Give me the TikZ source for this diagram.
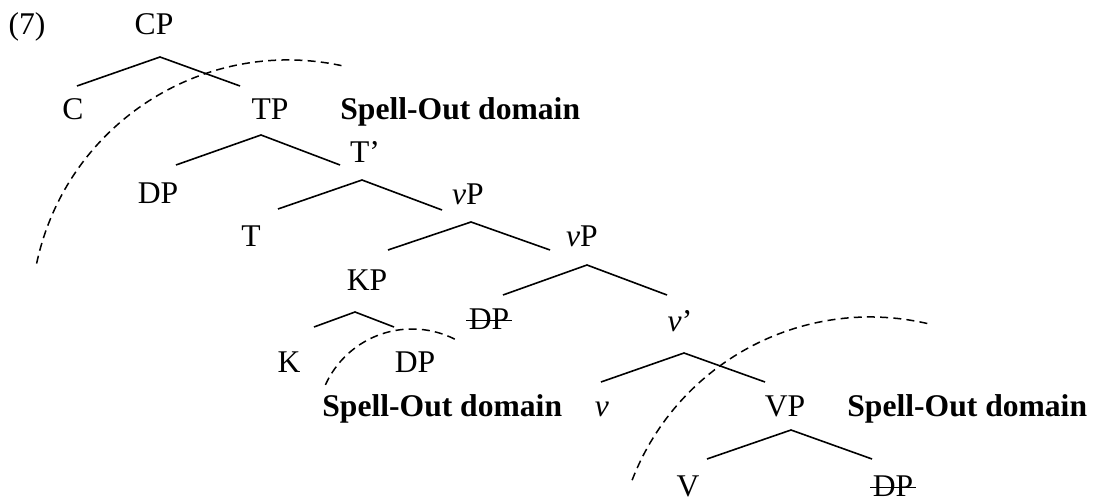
\documentclass[tikz,border=0pt]{standalone}
\usepackage{fontspec}
\setmainfont{Liberation Serif}
\usetikzlibrary{calc}
\begin{document}
\begin{tikzpicture}[x=0.5pt,y=-0.5pt,
  lab/.style={inner sep=0pt,anchor=base,font=\fontsize{15.8}{19}\selectfont},
  spell/.style={inner sep=0pt,anchor=base west,font=\fontsize{15.8}{19}\selectfont\bfseries},
  branch/.style={line width=0.8pt},
  boundary/.style={line width=0.75pt,dash pattern=on 4pt off 2.6pt},
  strike/.style={line width=0.65pt}]
\useasboundingbox (0,0) rectangle (1097,501);
% labels
\node[lab] (ex) at (27,35) {(7)};
\node[lab] (cp) at (154,35) {CP};
\node[lab] (c) at (73,120) {C};
\node[lab] (tp) at (270,120) {TP};
\node[spell] (sp1) at (340,120) {Spell-Out domain};
\node[lab] (tbar) at (365,163) {T’};
\node[lab] (dp1) at (158,204) {DP};
\node[lab] (vp1) at (468,205) {\textit{v}P};
\node[lab] (t) at (251,247) {T};
\node[lab] (vp2) at (582,247) {\textit{v}P};
\node[lab] (kp) at (367,291) {KP};
\node[lab] (dp2) at (489,330) {DP};
\node[lab] (vbar) at (680,332) {\textit{v}’};
\node[lab] (k) at (289,373) {K};
\node[lab] (dp3) at (415,373) {DP};
\node[spell] (sp2) at (322,417) {Spell-Out domain};
\node[lab] (v) at (602,417) {\textit{v}};
\node[lab] (vp) at (785,417) {VP};
\node[spell] (sp3) at (847,417) {Spell-Out domain};
\node[lab] (vv) at (688,497) {V};
\node[lab] (dp4) at (893,497) {DP};
% strike-through of the lower copies
\draw[strike] ([xshift=-1pt,yshift=4.6pt]dp2.base west) -- ([xshift=1pt,yshift=4.6pt]dp2.base east);
\draw[strike] ([xshift=-1pt,yshift=4.6pt]dp4.base west) -- ([xshift=1pt,yshift=4.6pt]dp4.base east);
% branch points
\coordinate (cpA) at (160,57);  \coordinate (cpL) at (77,86);   \coordinate (cpR) at (240,86);
\coordinate (tpA) at (261,135); \coordinate (tpL) at (176,165); \coordinate (tpR) at (340,165);
\coordinate (tbA) at (362,180); \coordinate (tbL) at (278,209); \coordinate (tbR) at (442,210);
\coordinate (v1A) at (471,222); \coordinate (v1L) at (388,250); \coordinate (v1R) at (550,250);
\coordinate (v2A) at (587,265); \coordinate (v2L) at (503,295); \coordinate (v2R) at (667,295);
\coordinate (kpA) at (355,312); \coordinate (kpL) at (314,327); \coordinate (kpR) at (394,327);
\coordinate (vbA) at (684,353); \coordinate (vbL) at (601,382); \coordinate (vbR) at (765,382);
\coordinate (vpA) at (791,430); \coordinate (vpL) at (707,459); \coordinate (vpR) at (872,459);
\draw[branch] (cpL) -- (cpA) -- (cpR);
\draw[branch] (tpL) -- (tpA) -- (tpR);
\draw[branch] (tbL) -- (tbA) -- (tbR);
\draw[branch] (v1L) -- (v1A) -- (v1R);
\draw[branch] (v2L) -- (v2A) -- (v2R);
\draw[branch] (kpL) -- (kpA) -- (kpR);
\draw[branch] (vbL) -- (vbA) -- (vbR);
\draw[branch] (vpL) -- (vpA) -- (vpR);
% spell-out domain boundaries
\coordinate (o1) at (288,317);
\coordinate (o2) at (412,424);
\coordinate (o3) at (870,572);
\draw[boundary] ($(o1)+(-168:257)$) arc[start angle=-168,end angle=-78,radius=257];
\draw[boundary] ($(o2)+(-155.7:95)$) arc[start angle=-155.7,end angle=-62,radius=95];
\draw[boundary] ($(o3)+(-158.9:255)$) arc[start angle=-158.9,end angle=-75.9,radius=255];
\end{tikzpicture}
\end{document}
